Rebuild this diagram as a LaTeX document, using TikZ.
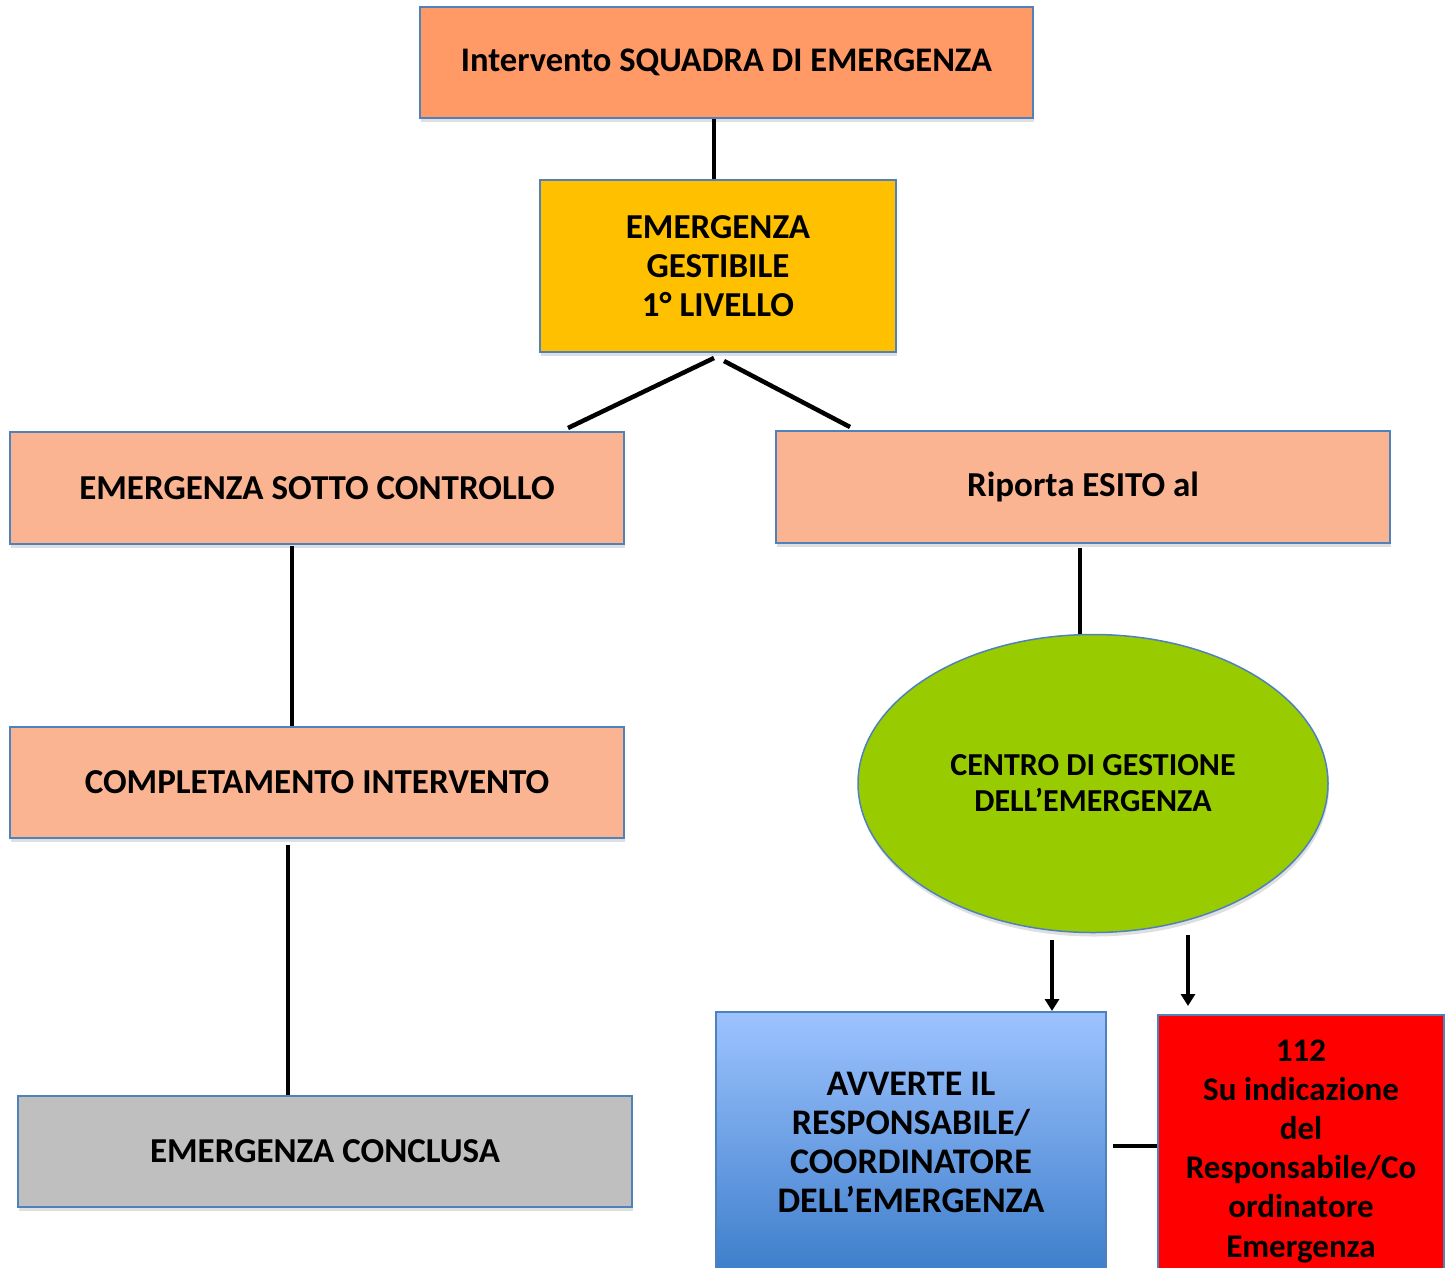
\documentclass[tikz,border=0pt]{standalone}
\usepackage{fontspec}
\setmainfont{Carlito}
\usetikzlibrary{shapes.geometric,shadows,calc,arrows.meta}
\definecolor{bord}{HTML}{4F81BD}
\definecolor{orangebox}{HTML}{FF9966}
\definecolor{salmon}{HTML}{FBB491}
\definecolor{gold}{HTML}{FFC000}
\definecolor{greenell}{HTML}{99CC00}
\definecolor{greybox}{HTML}{BFBFBF}
\definecolor{bluetop}{HTML}{9DC3FF}
\definecolor{bluebot}{HTML}{3E7ECB}
\tikzset{
  box/.style={draw=bord, line width=1.5pt, rectangle, align=center,
    font=\fontsize{35}{39}\selectfont\bfseries,
    drop shadow={shadow xshift=1pt, shadow yshift=-4pt, opacity=0.25}},
  conn/.style={line width=4.5pt, draw=black},
  arr/.style={line width=3.5pt, draw=black, -{Triangle[length=12pt,width=14pt]}}
}
\begin{document}
\begin{tikzpicture}[x=1pt,y=-1pt]
\useasboundingbox (0,0) rectangle (1454,1267);
\clip (0,0) rectangle (1454,1267);
\node[box, fill=orangebox, minimum width=613, minimum height=111, font=\fontsize{34.5}{39}\selectfont\bfseries] (top) at (726.5,62.5) {Intervento SQUADRA DI EMERGENZA};
\node[box, fill=gold, minimum width=356, minimum height=172] (yel) at (718,266) {EMERGENZA\\GESTIBILE\\1° LIVELLO};
\node[box, fill=salmon, minimum width=614, minimum height=112] (ctl) at (317,488) {EMERGENZA SOTTO CONTROLLO};
\node[box, fill=salmon, minimum width=614, minimum height=112] (esi) at (1083,487) {Riporta ESITO al};
\node[box, fill=salmon, minimum width=614, minimum height=111] (cmp) at (317,782.5) {COMPLETAMENTO INTERVENTO};
\node[box, fill=greybox, minimum width=614, minimum height=111] (end) at (325,1151.5) {EMERGENZA CONCLUSA};
\node[ellipse, draw=bord, line width=1.5pt, fill=greenell, minimum width=470, minimum height=298, align=center,
  font=\fontsize{32}{36}\selectfont\bfseries,
  drop shadow={shadow xshift=1pt, shadow yshift=-4pt, opacity=0.25}] (cge) at (1093,783.5) {CENTRO DI GESTIONE\\DELL’EMERGENZA};
\node[box, top color=bluetop, bottom color=bluebot, minimum width=390, minimum height=260, font=\fontsize{36}{39}\selectfont\bfseries] (avv) at (911,1142) {AVVERTE IL\\RESPONSABILE/\\COORDINATORE\\DELL’EMERGENZA};
\node[box, fill=red, minimum width=286, minimum height=272, font=\fontsize{33}{39.2}\selectfont\bfseries] (red) at (1301,1151) {112\\Su indicazione\\del\\Responsabile/Co\\ordinatore\\Emergenza};
% connectors
\draw[conn] (top.south -| 714,0) -- (yel.north -| 714,0);
\coordinate (d1a) at (714,358);
\coordinate (d1b) at (568,428);
\coordinate (d2a) at (724,361);
\coordinate (d2b) at (850,427);
\draw[conn] (d1a) -- (d1b);
\draw[conn] (d2a) -- (d2b);
\coordinate (l1a) at (292,546);
\draw[conn] (l1a) -- (l1a |- cmp.north);
\coordinate (l2a) at (288,845);
\draw[conn] (l2a) -- (l2a |- end.north);
\coordinate (r1a) at (1080,548);
\draw[conn] (r1a) -- (r1a |- cge.north);
\coordinate (a1a) at (1052,940);
\draw[arr] (a1a) -- (1052,1011);
\coordinate (a2a) at (1188,935);
\draw[arr] (a2a) -- (1188,1006);
\coordinate (hz) at (1113,1146);
\draw[conn] (hz) -- (hz -| red.west);
\end{tikzpicture}
\end{document}
